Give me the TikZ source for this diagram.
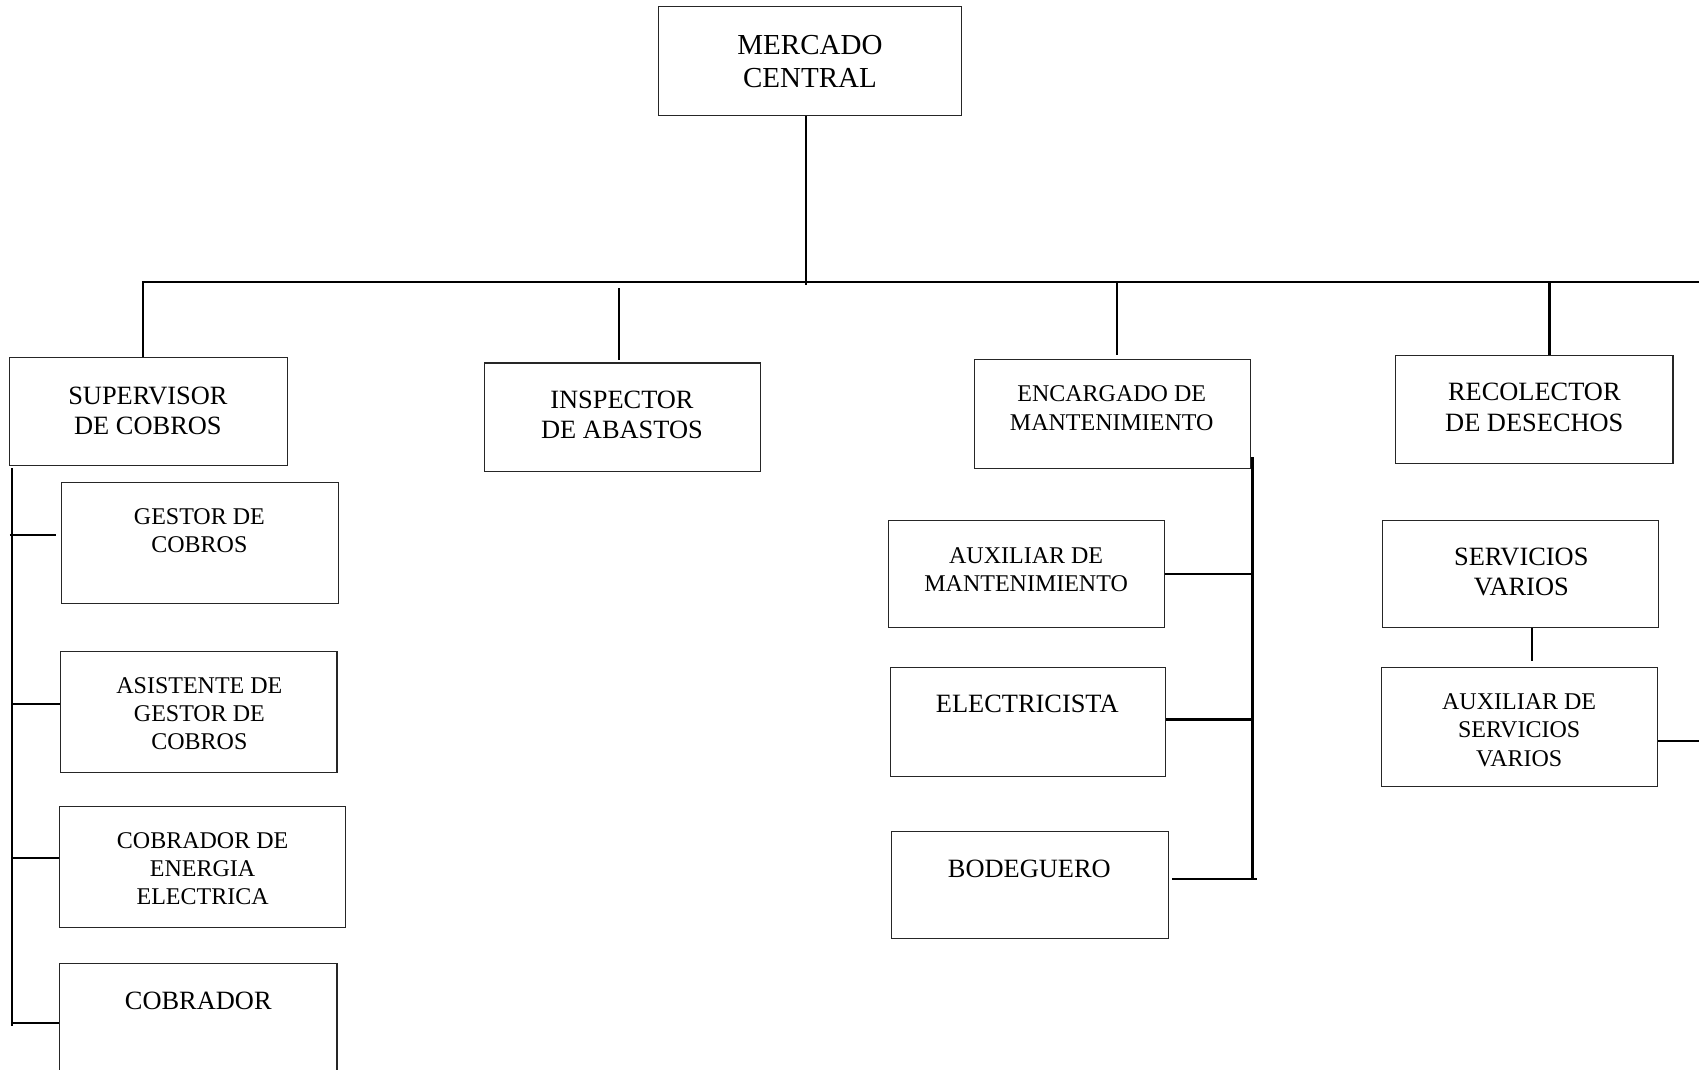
\documentclass[tikz,border=0pt]{standalone}
\usepackage{fontspec}
\setmainfont{Liberation Serif}
\usetikzlibrary{fit}
\begin{document}
\begin{tikzpicture}[x=0.54175pt,y=-0.54175pt,
  box/.style={draw=black!85,line width=0.55pt,inner sep=0pt,fit={#1}},
  conn/.style={draw=black,line width=1.1pt},
  big/.style={anchor=base,align=center,inner sep=0pt,font=\fontsize{14.5}{16.8}\selectfont},
  mid/.style={anchor=base,align=center,inner sep=0pt,font=\fontsize{13.2}{15.2}\selectfont},
  small/.style={anchor=base,align=center,inner sep=0pt,font=\fontsize{12}{14.1}\selectfont}]
\clip (0,0) rectangle (1568,987);
\fill[white] (0,0) rectangle (1568,987);
% boxes
\node (m)  [box={(608,6) (887,107)}] {};
\node (s)  [box={(9,330) (265,430)}] {};
\node (i)  [box={(447,335) (702,435)}] {};
\node (e)  [box={(899,332) (1154,432)}] {};
\node (r)  [box={(1288,328) (1544,428)}] {};
\node (g)  [box={(57,445) (312,557)}] {};
\node (a)  [box={(56,601) (311,713)}] {};
\node (ce) [box={(55,744) (319,856)}] {};
\node (c)  [box={(55,889) (311,1010)}] {};
\node (am) [box={(820,480) (1075,579)}] {};
\node (el) [box={(822,616) (1076,717)}] {};
\node (b)  [box={(823,767) (1078,866)}] {};
\node (sv) [box={(1276,480) (1531,579)}] {};
\node (as) [box={(1275,616) (1530,726)}] {};
% texts (anchor = baseline of last line)
\node (mt)  [big]   at (747.5,81) {MERCADO\\CENTRAL};
\node (st)  [mid]   at (136.5,401) {SUPERVISOR\\DE COBROS};
\node (it)  [mid]   at (574,405) {INSPECTOR\\DE ABASTOS};
\node (et)  [small] at (1026,397) {ENCARGADO DE\\MANTENIMIENTO};
\node (rt)  [mid]   at (1416,398) {RECOLECTOR\\DE DESECHOS};
\node (gt)  [small] at (184,510) {GESTOR DE\\COBROS};
\node (at)  [small] at (184,692) {ASISTENTE DE\\GESTOR DE\\COBROS};
\node (cet) [small] at (187,835) {COBRADOR DE\\ENERGIA\\ELECTRICA};
\node (ct)  [mid]   at (183,932) {COBRADOR};
\node (amt) [small] at (947,546) {AUXILIAR DE\\MANTENIMIENTO};
\node (elt) [mid]   at (948,658) {ELECTRICISTA};
\node (bt)  [mid]   at (950,810) {BODEGUERO};
\node (svt) [mid]   at (1404,550) {SERVICIOS\\VARIOS};
\node (ast) [small] at (1402,707) {AUXILIAR DE\\SERVICIOS\\VARIOS};
% coordinates
\coordinate (busL) at (131,260);
\coordinate (busR) at (1568,260);
\coordinate (mbus) at (744,263);
\coordinate (lt) at (11,432);
\coordinate (lb) at (11,947);
\coordinate (rt2) at (1156,422);
\coordinate (rb) at (1156,811);
% connectors
\draw[conn] (busL) -- (busR);
\draw[conn] (m.south -| mbus) -- (mbus);
\draw[conn] (132,260) -- (s.north -| 132,0);
\draw[conn] (571,266) -- (571,332);
\draw[conn] (1031,260) -- (1031,328);
\draw[conn] (1430,260) -- (r.north -| 1430,0);
\draw[conn] (lt) -- (lb);
\draw[conn] (9,494) -- (52,494);
\draw[conn] (lt |- 0,650) -- (a.west |- 0,650);
\draw[conn] (lt |- 0,792) -- (ce.west |- 0,792);
\draw[conn] (lt |- 0,944) -- (c.west |- 0,944);
\draw[conn] (rt2) -- (rb);
\draw[conn] (am.east |- 0,530) -- (rt2 |- 0,530);
\draw[conn] (el.east |- 0,664) -- (rt2 |- 0,664);
\draw[conn] (1082,811) -- (1160,811);
\draw[conn] (sv.south -| 1414,0) -- (1414,610);
\draw[conn] (as.east |- 0,684) -- (busR |- 0,684);
\end{tikzpicture}
\end{document}
